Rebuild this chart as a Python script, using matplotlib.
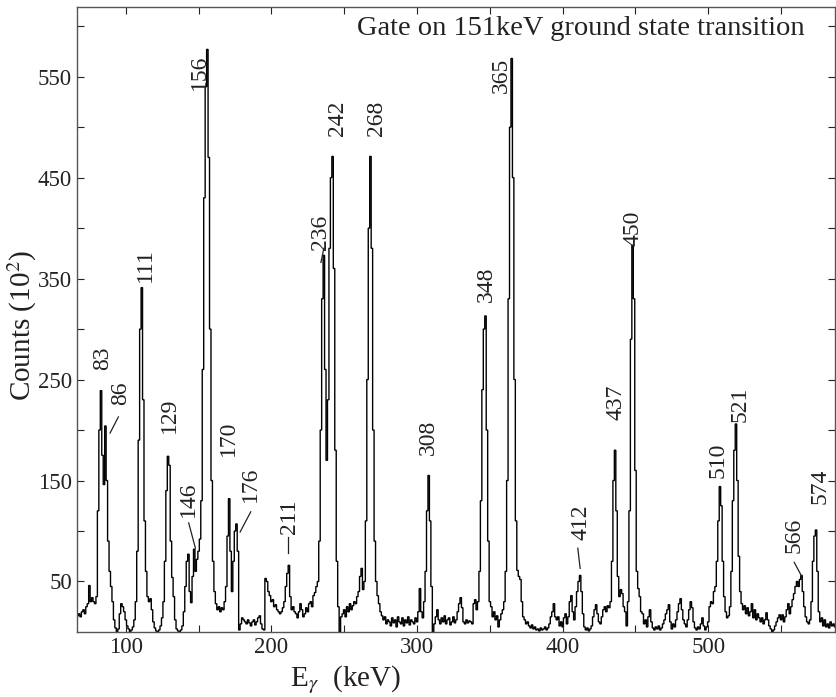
import numpy as np
import matplotlib
matplotlib.use("Agg")
import matplotlib.pyplot as plt

# gamma spectrum gated on the 151 keV transition, 1 keV channels starting at 66 keV
e_start = 66
counts = [
    12, 16, 18, 15, 20, 22, 18, 25, 28, 46,          # 66
    30, 34, 30, 28, 35, 120, 200, 239, 175, 146,     # 76
    204, 150, 90, 60, 45, 30, 12, 4, 0, 3,           # 86
    18, 28, 25, 20, 12, 6, 3, 0, 2, 5,               # 96
    12, 30, 80, 190, 300, 341, 230, 110, 60, 35,     # 106
    30, 33, 22, 10, 4, 1, 0, 2, 6, 14,               # 116
    30, 70, 140, 174, 165, 90, 54, 35, 12, 3,        # 126
    1, 0, 2, 6, 20, 45, 70, 77, 40, 29,              # 136
    55, 82, 60, 72, 80, 92, 130, 260, 430, 540,      # 146
    577, 470, 300, 150, 70, 40, 28, 22, 25, 20,      # 156
    24, 22, 30, 45, 95, 132, 80, 40, 70, 100,        # 166
    107, 80, 2, 8, 14, 12, 10, 8, 12, 9,             # 176
    6, 10, 12, 7, 10, 14, 16, 8, 3, 2,               # 186
    53, 50, 40, 36, 30, 32, 25, 27, 22, 20,          # 196
    18, 20, 24, 30, 45, 58, 66, 35, 22, 25,          # 206
    20, 18, 14, 20, 28, 22, 15, 18, 24, 20,          # 216
    28, 30, 25, 36, 39, 45, 50, 90, 200, 330,        # 226
    373, 260, 170, 230, 380, 450, 471, 360, 180, 70, # 236
    25, 0, 15, 18, 22, 15, 25, 20, 28, 22,           # 246
    26, 30, 28, 35, 40, 55, 63, 42, 50, 110,         # 256
    250, 400, 471, 380, 200, 90, 50, 36, 28, 20,     # 266
    16, 12, 15, 8, 12, 10, 6, 14, 9, 12,             # 276
    5, 15, 10, 8, 14, 6, 12, 9, 15, 7,               # 286
    12, 10, 8, 14, 10, 20, 43, 20, 14, 30,           # 296
    60, 120, 155, 110, 45, 0, 8, 15, 22, 12,         # 306
    8, 14, 10, 16, 8, 12, 14, 7, 10, 15,             # 316
    9, 12, 20, 28, 34, 24, 10, 8, 12, 9,             # 326
    11, 10, 8, 28, 32, 22, 30, 60, 130, 240,         # 336
    300, 313, 200, 90, 30, 25, 15, 20, 12, 16,       # 346
    5, 12, 18, 22, 30, 60, 150, 330, 500, 568,       # 356
    450, 250, 110, 61, 55, 52, 30, 15, 12, 8,        # 366
    10, 6, 4, 7, 3, 5, 2, 3, 1, 4,                   # 376
    2, 3, 5, 2, 4, 8, 15, 20, 28, 15,                # 386
    12, 15, 6, 10, 5, 14, 18, 8, 15, 30,             # 396
    36, 20, 12, 25, 40, 50, 56, 40, 18, 5,           # 406
    2, 4, 1, 3, 6, 15, 22, 27, 18, 10,               # 416
    8, 15, 22, 25, 20, 26, 24, 30, 70, 150,          # 426
    180, 120, 55, 35, 42, 38, 25, 20, 6, 30,         # 436
    120, 290, 383, 330, 160, 60, 43, 35, 20, 18,     # 446
    8, 12, 5, 15, 22, 10, 4, 2, 5, 3,                # 456
    6, 2, 4, 8, 12, 18, 22, 27, 10, 3,               # 466
    8, 5, 12, 20, 28, 33, 22, 12, 8, 5,              # 476
    12, 22, 30, 24, 10, 4, 2, 5, 3, 8,               # 486
    14, 6, 2, 5, 10, 25, 30, 28, 40, 45,             # 496
    70, 110, 144, 125, 70, 35, 20, 14, 16, 25,       # 506
    60, 130, 180, 206, 150, 75, 40, 28, 22, 26,      # 516
    18, 24, 16, 20, 28, 14, 22, 12, 18, 14,          # 526
    10, 14, 8, 12, 19, 12, 6, 3, 0, 2,               # 536
    6, 10, 14, 17, 12, 17, 10, 15, 22, 28,           # 546
    18, 25, 32, 38, 45, 50, 45, 52, 56, 40,          # 556
    25, 15, 10, 8, 12, 30, 70, 95, 101, 60,          # 566
    20, 10, 14, 6, 12, 5, 8, 4, 10, 6,               # 576
    8, 5,                                            # 586
]

# peak labels: text, energy, counts of label centre
label_text = ["83", "86", "111", "129", "146", "156", "170", "176", "211",
              "236", "242", "268", "308", "348", "365", "412", "437", "450",
              "510", "521", "566", "574"]
label_e = [84.4, 96.4, 113.3, 130.1, 143.0, 150.3, 170.6, 185.4, 212.3,
           233.4, 245.1, 271.9, 307.6, 347.4, 358.0, 412.3, 436.7, 448.4,
           506.8, 521.9, 558.6, 576.8]
label_c = [271, 236, 363, 215, 131, 554, 192, 146, 114,
           396, 509, 509, 193, 344, 551, 109, 227, 400,
           170, 225, 96, 144]

# short leader lines from label to peak
lead_e0 = [89.2, 143.2, 178.5, 211.7, 234.0, 410.4, 559.0]
lead_e1 = [94.9, 147.8, 185.8, 211.7, 236.0, 412.0, 563.8]
lead_c0 = [197, 108, 99, 78, 366, 83, 69]
lead_c1 = [213, 83, 119, 94, 380, 63, 56]

plt.rcParams['font.family'] = ['Liberation Serif', 'DejaVu Serif']
plt.rcParams['mathtext.fontset'] = 'stix'

fig = plt.figure(figsize=(8.37, 6.97), dpi=100)
ax = fig.add_axes([0.092, 0.0933, 0.9056, 0.8967])

edges = e_start - 0.5 + np.arange(len(counts) + 1)
ax.stairs(counts, edges, color='black', linewidth=1.0)

for t, e, c in zip(label_text, label_e, label_c):
    ax.text(e, c, t, rotation=90, ha='center', va='center', fontsize=17, color='#222222')
for e0, e1, c0, c1 in zip(lead_e0, lead_e1, lead_c0, lead_c1):
    ax.plot([e0, e1], [c0, c1], color='#222222', linewidth=0.9)

ax.text(0.96, 0.965, 'Gate on 151keV ground state transition', transform=ax.transAxes,
        ha='right', va='center', fontsize=20.5, color='#222222')

ax.set_xlim(66.5, 587)
ax.set_ylim(0, 619)
ax.set_xticks([100, 200, 300, 400, 500])
ax.set_xticks([150, 250, 350, 450, 550], minor=True)
ax.set_yticks([50, 150, 250, 350, 450, 550])
ax.set_yticks([100, 200, 300, 400, 500, 600], minor=True)
ax.tick_params(which='both', direction='in', top=True, right=True, labelsize=16.5,
               colors='#222222', width=0.8, length=5)
for s in ax.spines.values():
    s.set_color('#555555')
    s.set_linewidth(1.0)

ax.set_ylabel('Counts (10$^2$)', fontsize=21, color='#222222')
ax.yaxis.set_label_coords(-0.05, 0.49)
ax.set_xlabel(r'E$_\gamma$  (keV)', fontsize=21, color='#222222')
ax.xaxis.set_label_coords(0.354, -0.05)

fig.savefig('out.png', dpi=100)
